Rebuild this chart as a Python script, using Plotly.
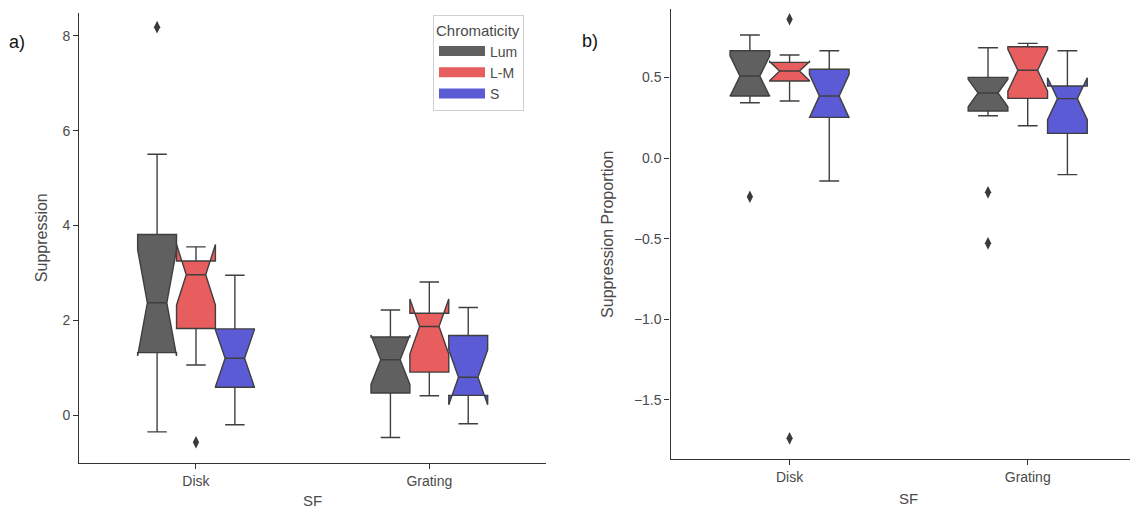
import plotly.graph_objects as go

# ---------------- data ----------------
categories = ["Disk", "Grating"]
hues = ["Lum", "L-M", "S"]
hue_colors = ["#606060", "#e85d5d", "#5b5bd6"]

# Panel a) Suppression  -- rows: Lum, L-M, S ; columns: Disk, Grating
supp_q1 = [[1.32, 0.47], [1.83, 0.91], [0.59, 0.42]]
supp_median = [[2.37, 1.17], [2.96, 1.87], [1.20, 0.80]]
supp_q3 = [[3.81, 1.65], [3.25, 2.15], [1.82, 1.68]]
supp_low = [[-0.35, -0.47], [1.06, 0.41], [-0.20, -0.18]]
supp_high = [[5.50, 2.22], [3.55, 2.81], [2.95, 2.27]]
supp_notch = [[1.12, 0.52], [0.64, 0.58], [0.60, 0.58]]
supp_out_cat = ["Disk", "Disk"]
supp_out_hue = ["Lum", "L-M"]
supp_out_val = [8.18, -0.57]

# Panel b) Suppression Proportion
prop_q1 = [[0.384, 0.291], [0.477, 0.370], [0.252, 0.153]]
prop_median = [[0.508, 0.403], [0.539, 0.544], [0.384, 0.368]]
prop_q3 = [[0.665, 0.500], [0.593, 0.690], [0.550, 0.446]]
prop_low = [[0.343, 0.262], [0.353, 0.200], [-0.143, -0.103]]
prop_high = [[0.763, 0.684], [0.639, 0.711], [0.665, 0.665]]
prop_notch = [[0.125, 0.085], [0.058, 0.130], [0.135, 0.130]]
prop_out_cat = ["Disk", "Disk", "Disk", "Grating", "Grating"]
prop_out_hue = ["Lum", "L-M", "L-M", "Lum", "Lum"]
prop_out_val = [-0.24, 0.86, -1.738, -0.213, -0.529]

# ---------------- layout helpers ----------------
W, H = 1130, 509
FONT = "Liberation Sans, Arial, sans-serif"
TXT = "#4a4a4a"
EDGE = "#3f3f3f"
BOX_W = 0.5 / len(hues)


def px(xp):
    return xp / W


def py(yp):
    return 1 - yp / H


def hue_offset(h):
    return (hues.index(h) - 1) * BOX_W


fig = go.Figure()

panels = [
    ("x", "y", supp_q1, supp_median, supp_q3, supp_low, supp_high, supp_notch,
     supp_out_cat, supp_out_hue, supp_out_val),
    ("x2", "y2", prop_q1, prop_median, prop_q3, prop_low, prop_high, prop_notch,
     prop_out_cat, prop_out_hue, prop_out_val),
]

for (xa, ya, q1, med, q3, lo, hi, nt, oc, oh, ov) in panels:
    for hi_idx, hue in enumerate(hues):
        fig.add_trace(go.Box(
            x=[ci + hue_offset(hue) for ci in range(len(categories))],
            q1=q1[hi_idx], median=med[hi_idx], q3=q3[hi_idx],
            lowerfence=lo[hi_idx], upperfence=hi[hi_idx],
            notchspan=nt[hi_idx], notched=True, notchwidth=0.25,
            width=BOX_W, whiskerwidth=0.5,
            fillcolor=hue_colors[hi_idx],
            line=dict(color=EDGE, width=1.4),
            name=hue, showlegend=False, hoverinfo="skip",
            xaxis=xa, yaxis=ya,
        ))
    fig.add_trace(go.Scatter(
        x=[categories.index(c) + hue_offset(h) for c, h in zip(oc, oh)],
        y=ov, mode="markers",
        marker=dict(symbol="diamond-tall", size=9, color="#3a3a3a"),
        showlegend=False, hoverinfo="skip", xaxis=xa, yaxis=ya,
    ))

# legend entries (patch-like)
for hi_idx, hue in enumerate(hues):
    fig.add_trace(go.Scatter(
        x=[None], y=[None], mode="lines", name=hue,
        line=dict(color=hue_colors[hi_idx], width=10),
        xaxis="x", yaxis="y", showlegend=True,
    ))

axis_common = dict(
    showline=True, linecolor="#333333", linewidth=1.3,
    ticks="outside", ticklen=5, tickwidth=1.2, tickcolor="#333333",
    showgrid=False, zeroline=False,
    tickfont=dict(family=FONT, size=14, color=TXT),
)

fig.update_layout(
    width=W, height=H,
    margin=dict(l=0, r=0, t=0, b=0),
    paper_bgcolor="white", plot_bgcolor="white",
    boxmode="overlay",
    font=dict(family=FONT, size=14, color=TXT),
    xaxis=dict(domain=[px(79.3), px(546)], range=[-0.5, 1.5],
               tickvals=list(range(len(categories))), ticktext=categories,
               title=dict(text="SF", font=dict(size=15, color=TXT), standoff=8),
               anchor="y", **axis_common),
    yaxis=dict(domain=[py(462.7), py(12.7)], range=[-1.0, 8.485],
               tickvals=[0, 2, 4, 6, 8],
               title=dict(text="Suppression", font=dict(size=16, color=TXT), standoff=10),
               anchor="x", **axis_common),
    xaxis2=dict(domain=[px(670.5), 1.0], range=[-0.5, 1.4295],
                tickvals=list(range(len(categories))), ticktext=categories,
                anchor="y2", **axis_common),
    yaxis2=dict(domain=[py(459.3), py(9.3)], range=[-1.868, 0.922],
                tickvals=[-1.5, -1.0, -0.5, 0.0, 0.5], tickformat=".1f",
                title=dict(text="Suppression Proportion", font=dict(size=16, color=TXT), standoff=16),
                anchor="x2", **axis_common),
    legend=dict(
        x=px(433), y=py(15), xanchor="left", yanchor="top",
        bgcolor="white", bordercolor="#d0d0d0", borderwidth=1,
        title=dict(text="Chromaticity", font=dict(size=15, color=TXT)),
        font=dict(family=FONT, size=14, color=TXT),
        itemwidth=46, tracegroupgap=0,
    ),
    annotations=[
        dict(text="a)", x=px(17), y=py(42), xref="paper", yref="paper",
             xanchor="center", yanchor="middle",
             showarrow=False, font=dict(size=18, color="#111111", family=FONT)),
        dict(text="b)", x=px(590), y=py(41), xref="paper", yref="paper",
             xanchor="center", yanchor="middle",
             showarrow=False, font=dict(size=18, color="#111111", family=FONT)),
        dict(text="SF", x=px(908.5), y=py(498), xref="paper", yref="paper",
             xanchor="center", yanchor="middle",
             showarrow=False, font=dict(size=15, color=TXT, family=FONT)),
    ],
)

fig.write_html("out.html")
